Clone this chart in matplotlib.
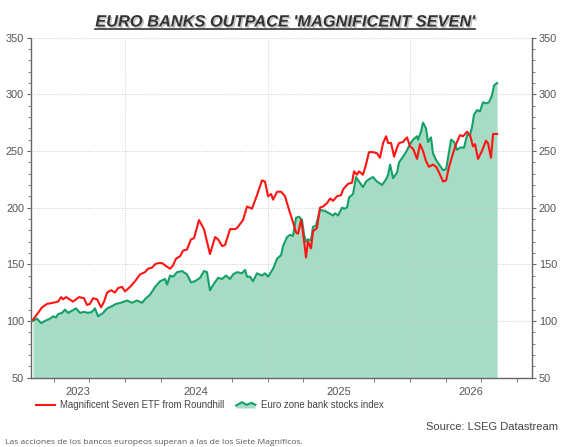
import numpy as np
import matplotlib
matplotlib.use("Agg")
import matplotlib.pyplot as plt
import matplotlib.patheffects as pe
from matplotlib.legend_handler import HandlerBase
from matplotlib.patches import Polygon
from matplotlib.lines import Line2D

# time in decimal years, values rebased to 100
mags_t = [2023.354, 2023.418, 2023.453, 2023.495, 2023.530, 2023.551, 2023.565, 2023.586, 2023.635, 2023.677,
          2023.712, 2023.733, 2023.754, 2023.775, 2023.804, 2023.832, 2023.853, 2023.874, 2023.902, 2023.930,
          2023.951, 2023.979, 2024.000, 2024.035, 2024.070, 2024.105, 2024.140, 2024.161, 2024.189, 2024.211,
          2024.232, 2024.260, 2024.281, 2024.316, 2024.337, 2024.358, 2024.386, 2024.407, 2024.435, 2024.463,
          2024.484, 2024.519, 2024.554, 2024.575, 2024.596, 2024.632, 2024.653, 2024.681, 2024.702, 2024.737,
          2024.772, 2024.786, 2024.828, 2024.856, 2024.891, 2024.926, 2024.961, 2024.982, 2025.004, 2025.025,
          2025.039, 2025.067, 2025.095, 2025.123, 2025.151, 2025.179, 2025.200, 2025.214, 2025.235, 2025.249,
          2025.270, 2025.284, 2025.305, 2025.319, 2025.347, 2025.368, 2025.390, 2025.418, 2025.439, 2025.460,
          2025.488, 2025.516, 2025.530, 2025.565, 2025.593, 2025.607, 2025.628, 2025.642, 2025.670, 2025.691,
          2025.712, 2025.740, 2025.768, 2025.789, 2025.811, 2025.832, 2025.846, 2025.867, 2025.888, 2025.909,
          2025.923, 2025.951, 2025.979, 2026.000, 2026.021, 2026.049, 2026.070, 2026.091, 2026.112, 2026.133,
          2026.161, 2026.183, 2026.204, 2026.232, 2026.253, 2026.274, 2026.302, 2026.323, 2026.351, 2026.372,
          2026.400, 2026.421, 2026.442, 2026.456, 2026.477, 2026.505, 2026.533, 2026.547, 2026.568, 2026.583,
          2026.611]
mags_v = [101, 112, 115, 116, 117, 121, 119, 121, 117, 121,
          120, 114, 115, 120, 119, 112, 117, 125, 127, 125,
          129, 130, 126, 130, 135, 141, 143, 146, 147, 150,
          151, 151, 149, 146, 149, 155, 157, 162, 163, 172,
          173, 189, 181, 170, 159, 174, 172, 166, 167, 181,
          181, 182, 189, 201, 199, 211, 224, 223, 210, 212,
          207, 214, 214, 210, 198, 187, 178, 177, 189, 178,
          156, 170, 164, 179, 182, 200, 201, 204, 208, 206,
          210, 211, 216, 221, 222, 232, 229, 232, 229, 238,
          249, 249, 248, 244, 257, 263, 257, 257, 245, 253,
          257, 258, 262, 254, 252, 243, 256, 250, 241, 236,
          238, 236, 231, 223, 224, 236, 248, 256, 264, 263,
          267, 264, 254, 256, 243, 250, 259, 257, 244, 265,
          265]

bank_t = [2023.354, 2023.382, 2023.411, 2023.439, 2023.474, 2023.495, 2023.516, 2023.530, 2023.558, 2023.579,
          2023.600, 2023.628, 2023.656, 2023.684, 2023.712, 2023.740, 2023.768, 2023.789, 2023.811, 2023.846,
          2023.874, 2023.909, 2023.937, 2023.972, 2024.014, 2024.049, 2024.084, 2024.119, 2024.147, 2024.175,
          2024.211, 2024.246, 2024.281, 2024.295, 2024.316, 2024.337, 2024.365, 2024.400, 2024.435, 2024.463,
          2024.491, 2024.526, 2024.554, 2024.575, 2024.596, 2024.625, 2024.653, 2024.681, 2024.709, 2024.737,
          2024.758, 2024.786, 2024.821, 2024.842, 2024.856, 2024.877, 2024.898, 2024.926, 2024.961, 2024.982,
          2025.004, 2025.039, 2025.067, 2025.095, 2025.109, 2025.137, 2025.158, 2025.179, 2025.200, 2025.221,
          2025.242, 2025.256, 2025.270, 2025.284, 2025.305, 2025.319, 2025.340, 2025.368, 2025.404, 2025.432,
          2025.460, 2025.474, 2025.495, 2025.523, 2025.537, 2025.558, 2025.572, 2025.600, 2025.621, 2025.642,
          2025.670, 2025.691, 2025.712, 2025.740, 2025.768, 2025.804, 2025.832, 2025.846, 2025.860, 2025.881,
          2025.909, 2025.923, 2025.951, 2025.972, 2026.000, 2026.021, 2026.049, 2026.056, 2026.077, 2026.091,
          2026.112, 2026.126, 2026.147, 2026.161, 2026.183, 2026.204, 2026.232, 2026.253, 2026.267, 2026.288,
          2026.309, 2026.330, 2026.351, 2026.379, 2026.400, 2026.421, 2026.435, 2026.449, 2026.470, 2026.491,
          2026.512, 2026.533, 2026.554, 2026.575, 2026.590, 2026.611]
bank_v = [100, 102, 98, 100, 102, 104, 103, 106, 107, 110,
          107, 109, 111, 107, 108, 107, 108, 111, 104, 107,
          111, 113, 115, 116, 118, 116, 118, 116, 120, 123,
          130, 135, 137, 132, 140, 139, 143, 144, 141, 134,
          135, 138, 144, 143, 127, 133, 138, 137, 140, 137,
          141, 143, 142, 145, 139, 139, 135, 142, 140, 142,
          139, 146, 155, 158, 166, 174, 176, 175, 191, 192,
          189, 176, 170, 172, 171, 183, 184, 198, 197, 195,
          193, 195, 193, 200, 199, 200, 209, 212, 227, 223,
          218, 223, 225, 227, 223, 220, 225, 229, 238, 226,
          231, 240, 245, 249, 256, 260, 263, 260, 267, 275,
          270, 258, 262, 248, 242, 238, 233, 234, 244, 260,
          258, 251, 253, 253, 264, 264, 271, 282, 286, 285,
          293, 292, 293, 299, 308, 310]

years = [2023, 2024, 2025, 2026]
labels = ["Magnificent Seven ETF from Roundhill", "Euro zone bank stocks index"]

RED = "#ff1414"
GREEN = "#14a068"
FILL = "#a7dcc4"
GRID = "#cccccc"
TXT = "#555555"


class AreaHandler(HandlerBase):
    # little filled zigzag, like the legend key in the original
    def create_artists(self, legend, orig_handle, xdescent, ydescent, width, height, fontsize, trans):
        xs = np.array([0, 0.3, 0.55, 0.8, 1.0]) * width - xdescent
        ys = np.array([0.45, 0.95, 0.55, 0.85, 0.55]) * height - ydescent
        verts = list(zip(xs, ys)) + [(xs[-1], -ydescent), (xs[0], -ydescent)]
        poly = Polygon(verts, closed=True, fc=FILL, ec="none", transform=trans)
        line = Line2D(xs, ys, color=GREEN, lw=1.5, transform=trans)
        return [poly, line]


fig = plt.figure(figsize=(5.7, 4.47), dpi=100)
ax = fig.add_axes([31 / 570, 1 - 377.5 / 447, 501 / 570, 339.8 / 447])

ax.fill_between(bank_t, bank_v, 50, color=FILL, lw=0, zorder=1)
ax.plot(bank_t, bank_v, color=GREEN, lw=1.5, zorder=3, solid_joinstyle="round")
ax.plot(mags_t, mags_v, color=RED, lw=1.5, zorder=4, solid_joinstyle="round")

x0, x1 = 2023.34, 2026.856
ax.set_xlim(x0, x1)
ax.set_ylim(50, 350)

ax.set_axisbelow(False)
ax.set_yticks(np.arange(50, 351, 50))
ax.set_yticks(np.arange(50, 351, 10), minor=True)
ax.yaxis.grid(True, ls=":", color=GRID, lw=0.7)
for yr in years[1:]:
    ax.axvline(yr, ls=":", color=GRID, lw=0.7, zorder=2.5)

# year labels sit in the middle of the visible part of each year
centers = [(max(yr, x0) + min(yr + 1, x1)) / 2 for yr in years]
ax.set_xticks(centers)
ax.set_xticklabels([str(yr) for yr in years])
quarters = [q for q in np.arange(2023.0, 2027.0, 0.25) if x0 < q < x1]
ax.set_xticks(quarters, minor=True)

ax.tick_params(axis="x", which="major", length=0, pad=7, labelsize=8, labelcolor=TXT)
ax.tick_params(axis="x", which="minor", length=3, color="#666666", direction="out")
ax.tick_params(axis="y", which="both", left=True, right=True, labelright=True,
               direction="out", color="#666666", labelsize=7.8, labelcolor=TXT, pad=2)
ax.tick_params(axis="y", which="major", length=3)
ax.tick_params(axis="y", which="minor", length=2)

ax.spines["top"].set_visible(False)
for s in ["left", "right", "bottom"]:
    ax.spines[s].set_color("#666666")
    ax.spines[s].set_linewidth(1.0)

for lab in ax.get_xticklabels() + ax.get_yticklabels():
    lab.set_family("Liberation Sans")

# legend under the axes
red_handle = Line2D([], [], color=RED, lw=1.5)
area_handle = Polygon([[0, 0]], fc=FILL, ec=GREEN)
fig.legend([red_handle, area_handle], labels, handler_map={area_handle: AreaHandler()},
           loc="center left", bbox_to_anchor=(36 / 570, 1 - 405.5 / 447), ncol=2,
           frameon=False, borderpad=0, borderaxespad=0, handlelength=2.0, handleheight=0.7,
           handletextpad=0.55, columnspacing=1.2,
           prop={"family": "Liberation Sans", "size": 6.9}, labelcolor="#444444")

shadow = [pe.SimplePatchShadow(offset=(1.2, -1.2), shadow_rgbFace="#888888", alpha=0.5), pe.Normal()]
title = fig.text(0.5, 1 - 26.5 / 447, "EURO BANKS OUTPACE 'MAGNIFICENT SEVEN'", ha="center", va="baseline",
                 family="Liberation Sans", weight="bold", style="italic", size=11.8, color="#333333",
                 path_effects=shadow)

fig.text(558 / 570, 1 - 427 / 447, "Source: LSEG Datastream", ha="right", va="center",
         family="Liberation Sans", size=8.0, color="#444444")
fig.text(5 / 570, 1 - 443 / 447, "Las acciones de los bancos europeos superan a las de los Siete Magníficos.",
         ha="left", va="center", family="Open Sans", size=6.1, color=TXT)

# underline the title
fig.canvas.draw()
bb = title.get_window_extent()
uy = 1 - 29 / 447
fig.add_artist(Line2D([bb.x0 / 570, bb.x1 / 570], [uy, uy], color="#333333", lw=1.2,
                      path_effects=shadow))

fig.savefig("out.png", dpi=100)
